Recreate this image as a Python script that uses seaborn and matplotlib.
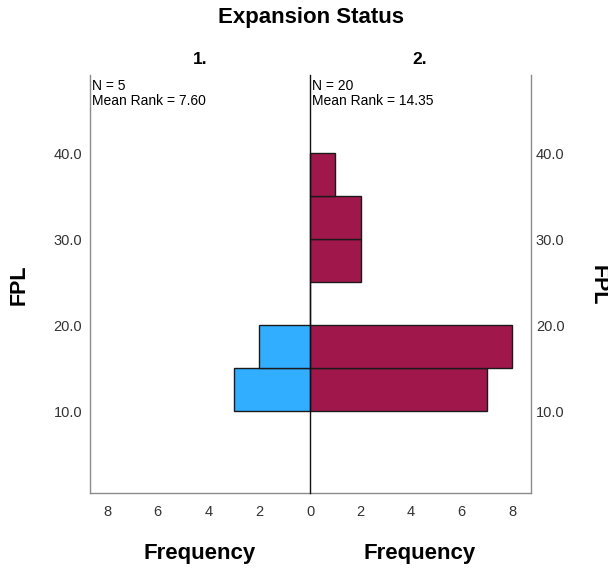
import numpy as np
import pandas as pd
import matplotlib
matplotlib.use("Agg")
import matplotlib.pyplot as plt
import seaborn as sns

# FPL histogram (bins of width 5) by expansion status
bin_edges = [10, 15, 20, 25, 30, 35, 40]
bin_mids = [12.5, 17.5, 22.5, 27.5, 32.5, 37.5]
freq_group1 = [3, 2, 0, 0, 0, 0]
freq_group2 = [7, 8, 0, 2, 2, 1]
group_labels = ["1.", "2."]
group_stats = ["N = 5\nMean Rank = 7.60", "N = 20\nMean Rank = 14.35"]
y_ticks = [10, 20, 30, 40]
x_ticks_left = [0, 2, 4, 6, 8]
x_ticks_right = [2, 4, 6, 8]

sns.set_theme(style="white")
plt.rcParams["font.family"] = ["Liberation Sans", "DejaVu Sans"]

W, H = 608, 569
fig = plt.figure(figsize=(W / 100, H / 100), dpi=100)

def rect(x0, y0, x1, y1):
    return [x0 / W, 1 - y1 / H, (x1 - x0) / W, (y1 - y0) / H]

ax_l = fig.add_axes(rect(90, 75, 310, 493))
ax_r = fig.add_axes(rect(310, 75, 531, 493))

df = pd.DataFrame({"FPL": bin_mids, "g1": freq_group1, "g2": freq_group2})

blue = "#31AEFF"
maroon = "#A0174B"
edge = "#1a1a1a"
sns.histplot(data=df, y="FPL", weights="g1", bins=bin_edges, ax=ax_l,
             color=blue, alpha=1, edgecolor=edge, linewidth=1.0)
sns.histplot(data=df, y="FPL", weights="g2", bins=bin_edges, ax=ax_r,
             color=maroon, alpha=1, edgecolor=edge, linewidth=1.0)

ylim = (0.47, 49.07)
grey = "#8c8c8c"
tick_color = "#333333"

ax_l.set_xlim(8.67, 0)
ax_r.set_xlim(0, 8.75)
for ax in (ax_l, ax_r):
    ax.set_ylim(*ylim)
    ax.set_xlabel("")
    ax.set_ylabel("")
    ax.set_yticks(y_ticks)
    ax.set_yticklabels([f"{v:.1f}" for v in y_ticks])
    ax.tick_params(length=0, labelsize=10.5, colors=tick_color)
    ax.tick_params(axis="x", pad=9)
    ax.set_facecolor("none")
    for s in ax.spines.values():
        s.set_visible(False)
    ax.spines["bottom"].set_visible(True)
    ax.spines["bottom"].set_color(grey)
    ax.spines["bottom"].set_linewidth(1.0)
    ax.grid(False)

ax_l.set_xticks(x_ticks_left)
ax_r.set_xticks(x_ticks_right)

ax_l.spines["left"].set_visible(True)
ax_l.spines["left"].set_color(grey)
ax_l.spines["left"].set_linewidth(1.0)
ax_l.tick_params(axis="y", left=False, labelleft=True, pad=5.5)

# shared zero line between the two panels
ax_r.spines["left"].set_visible(True)
ax_r.spines["left"].set_color("#111111")
ax_r.spines["left"].set_linewidth(1.0)
ax_r.spines["left"].set_zorder(5)

ax_r.spines["right"].set_visible(True)
ax_r.spines["right"].set_color(grey)
ax_r.spines["right"].set_linewidth(1.0)
ax_r.yaxis.tick_right()
ax_r.tick_params(axis="y", right=False, labelright=True, labelleft=False, pad=3.5)

# group size and mean rank in each panel's top-left corner
for x_px, stat in zip((92, 312), group_stats):
    fig.text(x_px / W, 1 - 79 / H, stat, ha="left", va="top",
             fontsize=10, color="black", linespacing=1.05)

fig.text(311 / W, 1 - 18 / H, "Expansion Status", ha="center", va="center",
         fontsize=16, fontweight="bold", color="black")
fig.text(200 / W, 1 - 59 / H, group_labels[0], ha="center", va="center",
         fontsize=12.5, fontweight="bold", color="black")
fig.text(420 / W, 1 - 59 / H, group_labels[1], ha="center", va="center",
         fontsize=12.5, fontweight="bold", color="black")
fig.text(200 / W, 1 - 553 / H, "Frequency", ha="center", va="center",
         fontsize=16, fontweight="bold", color="black")
fig.text(420 / W, 1 - 553 / H, "Frequency", ha="center", va="center",
         fontsize=16, fontweight="bold", color="black")
fig.text(19 / W, 1 - 285 / H, "FPL", ha="center", va="center",
         fontsize=15.5, fontweight="bold", rotation=90, color="black")
fig.text(598 / W, 1 - 285 / H, "FPL", ha="center", va="center",
         fontsize=15.5, fontweight="bold", rotation=270, color="black")

fig.savefig("out.png", dpi=100, facecolor="white")
